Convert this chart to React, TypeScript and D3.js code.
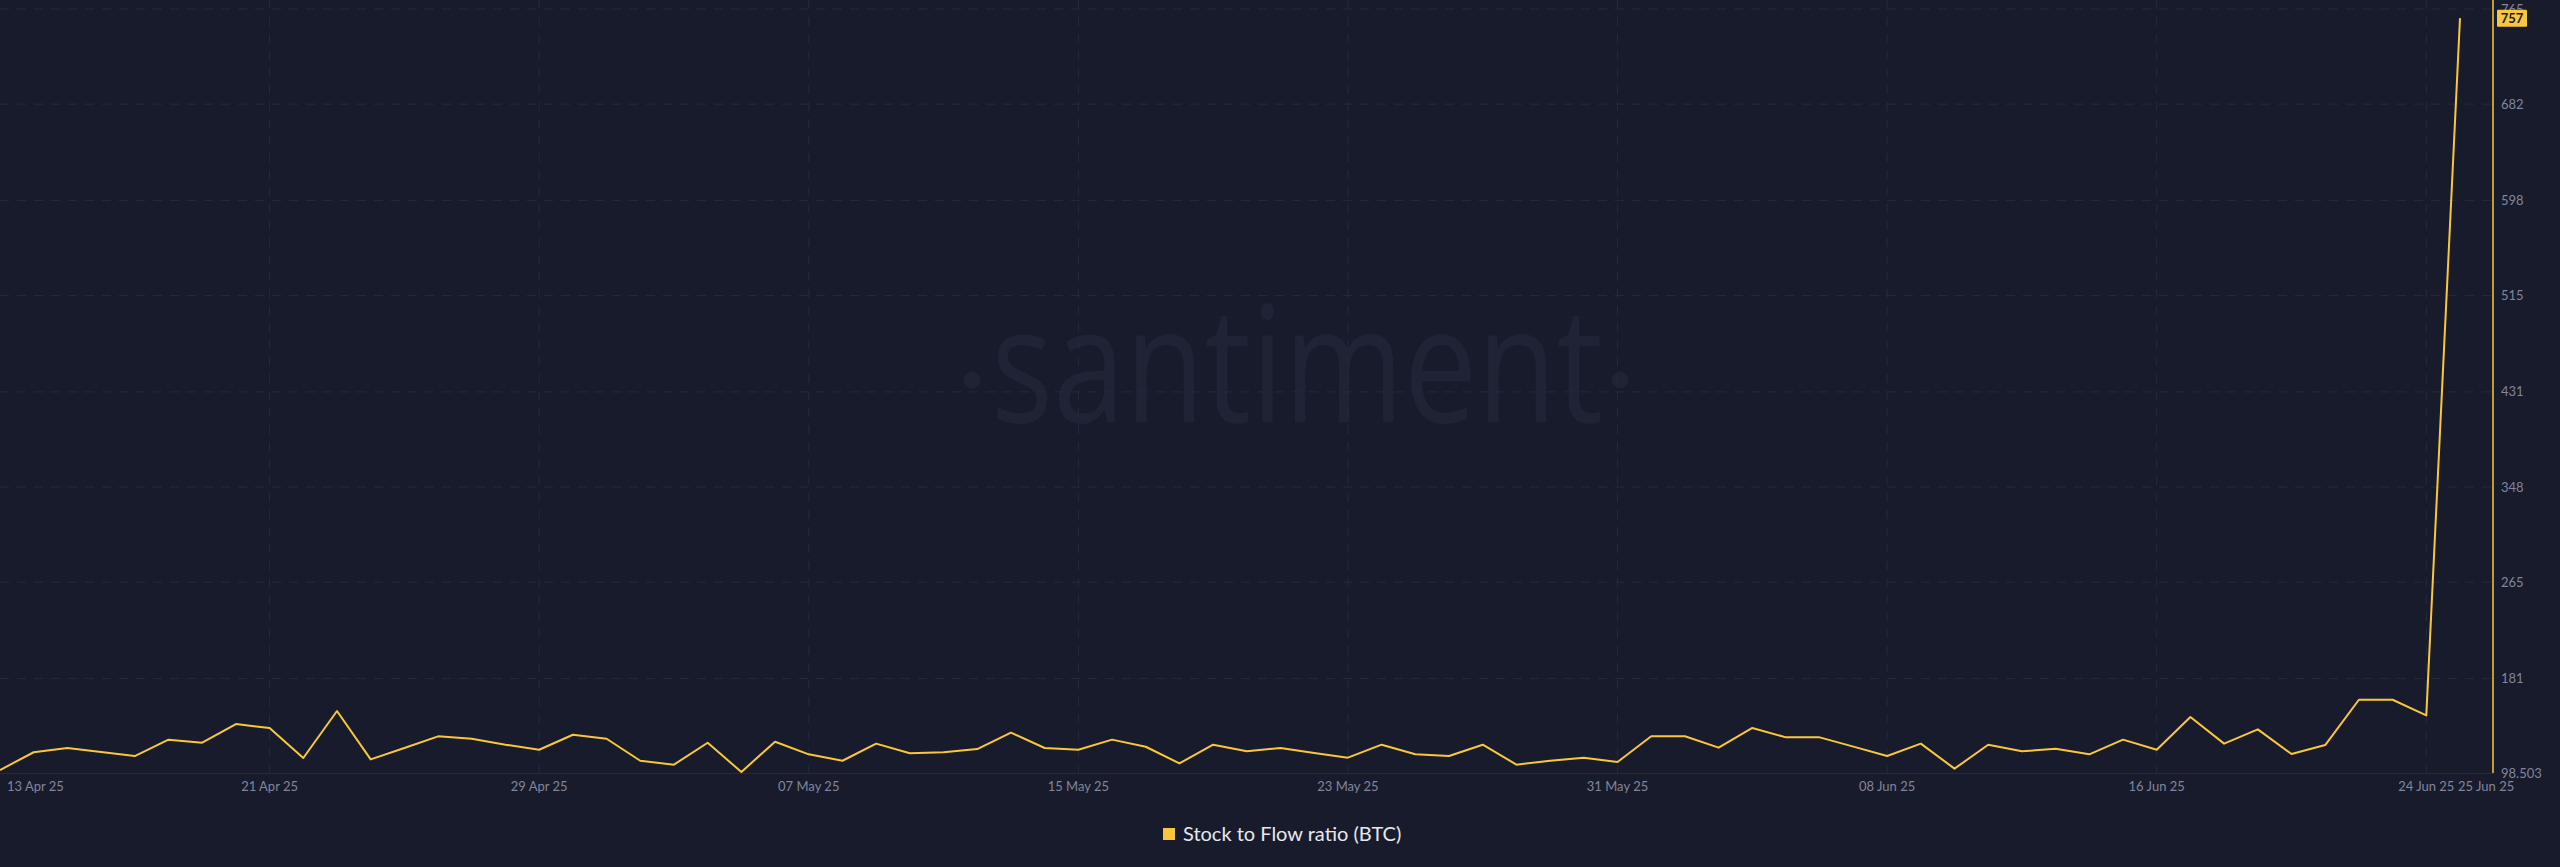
import React from 'react';
import * as d3 from 'd3';

const startDate = '2025-04-13';
const seriesName = 'Stock to Flow ratio (BTC)';
const values: number[] = [
  101.1, 116.6, 120.3, 116.8, 113.3, 127.6, 124.9, 141.2, 137.8, 111.6,
  152.6, 110.4, 120.3, 130.5, 128.4, 123.2, 118.8, 131.9, 128.4, 109.2,
  105.8, 124.9, 99.4, 125.8, 114.8, 109.2, 124.1, 115.7, 116.6, 119.4,
  133.7, 120.3, 118.8, 127.6, 121.4, 106.9, 123.2, 117.4, 120.3, 115.9,
  111.9, 123.2, 114.8, 113.3, 123.2, 105.8, 109.2, 111.9, 108.1, 130.5,
  130.5, 120.6, 137.8, 129.6, 129.6, 121.5, 113.3, 124.1, 102.3, 123.2,
  117.4, 119.7, 114.8, 127.6, 118.8, 147.4, 124.1, 136.6, 115.1, 122.9,
  162.4, 162.4, 148.8, 757,
];
const yMin = 98.503;
const yMax = 765;
const yTicks: number[] = [98.503, 181, 265, 348, 431, 515, 598, 682, 765];
const yTickLabels: string[] = ['98.503', '181', '265', '348', '431', '515', '598', '682', '765'];
const xTickDates: string[] = [
  '2025-04-13', '2025-04-21', '2025-04-29', '2025-05-07', '2025-05-15',
  '2025-05-23', '2025-05-31', '2025-06-08', '2025-06-16', '2025-06-24', '2025-06-25',
];
const xTickLabels: string[] = [
  '13 Apr 25', '21 Apr 25', '29 Apr 25', '07 May 25', '15 May 25',
  '23 May 25', '31 May 25', '08 Jun 25', '16 Jun 25', '24 Jun 25', '25 Jun 25',
];
const lastValueLabel = '757';

const W = 2560;
const H = 867;
const BG = '#181b2b';
const YELLOW = '#f9c73d';
const TEXT = '#80869c';
const GRID = '#262a3e';
const FONT = 'Lato, "Open Sans", sans-serif';

const parse = (s: string) => new Date(s + 'T00:00:00Z');

export default function App() {
  const start = parse(startDate);
  const data = values.map((v, i) => ({ date: d3.utcDay.offset(start, i), value: v }));
  const plotLeft = 0;
  const plotRight = 2493;
  const plotTop = 9;
  const plotBottom = 773;

  const x = d3
    .scaleUtc()
    .domain([data[0].date, data[data.length - 1].date])
    .range([0, 2460]);
  const y = d3.scaleLinear().domain([yMin, yMax]).range([plotBottom, plotTop]);

  const line = d3
    .line<{ date: Date; value: number }>()
    .x((d) => x(d.date))
    .y((d) => y(d.value));

  const last = data[data.length - 1];

  return (
    <svg
      width={W}
      height={H}
      style={{ position: 'absolute', left: 0, top: 0, display: 'block' }}
      fontFamily={FONT}
    >
      <rect x={0} y={0} width={W} height={H} fill={BG} />

      {/* watermark */}
      <g fill="#1f2335">
        <text
          x={991}
          y={422}
          fontSize={162}
          fontFamily='"Open Sans", sans-serif'
          textLength={612}
          lengthAdjust="spacingAndGlyphs"
        >
          santiment
        </text>
        <circle cx={972} cy={380} r={8.5} />
        <circle cx={1620} cy={380} r={8.5} />
      </g>

      {/* horizontal grid */}
      {yTicks.slice(1).map((t) => (
        <line
          key={'h' + t}
          x1={plotLeft}
          x2={plotRight}
          y1={y(t)}
          y2={y(t)}
          stroke={GRID}
          strokeWidth={1}
          strokeDasharray="9 8"
        />
      ))}
      {/* vertical grid */}
      {xTickDates.slice(1, xTickDates.length - 1).map((d) => (
        <line
          key={'v' + d}
          x1={x(parse(d))}
          x2={x(parse(d))}
          y1={0}
          y2={plotBottom}
          stroke={GRID}
          strokeWidth={1}
          strokeDasharray="9 8"
        />
      ))}

      {/* bottom axis line */}
      <line x1={plotLeft} x2={plotRight} y1={plotBottom + 0.5} y2={plotBottom + 0.5} stroke="#262a3c" strokeWidth={1} />

      {/* series line */}
      <path d={line(data) || ''} fill="none" stroke={YELLOW} strokeWidth={2} strokeLinejoin="round" />

      {/* right axis line */}
      <line x1={plotRight} x2={plotRight} y1={0} y2={plotBottom} stroke={YELLOW} strokeWidth={1.5} />

      {/* y tick labels */}
      {yTicks.map((t, i) => (
        <text
          key={'yl' + t}
          x={plotRight + 8}
          y={y(t)}
          dy="0.35em"
          fontSize={13}
          fill={TEXT}
        >
          {yTickLabels[i]}
        </text>
      ))}

      {/* last value badge */}
      <rect x={plotRight + 4} y={y(last.value) - 8.5} width={30} height={17} fill={YELLOW} rx={1} />
      <text
        x={plotRight + 19}
        y={y(last.value)}
        dy="0.36em"
        textAnchor="middle"
        fontSize={13}
        fontWeight={700}
        fill="#1a1d2d"
      >
        {lastValueLabel}
      </text>

      {/* x tick labels */}
      {xTickDates.map((d, i) => {
        const px = x(parse(d));
        let anchor: 'start' | 'middle' | 'end' = 'middle';
        let tx = px;
        if (i === 0) {
          anchor = 'start';
          tx = px + 7;
        } else if (i === xTickDates.length - 1) {
          anchor = 'start';
          tx = px - 2;
        }
        return (
          <text key={'xl' + d} x={tx} y={791} fontSize={13} fill={TEXT} textAnchor={anchor}>
            {xTickLabels[i]}
          </text>
        );
      })}

      {/* legend */}
      <rect x={1163} y={828} width={12} height={12} fill={YELLOW} />
      <text x={1183} y={834} dy="0.35em" fontSize={20} fill="#e6e8ef">
        {seriesName}
      </text>
    </svg>
  );
}
